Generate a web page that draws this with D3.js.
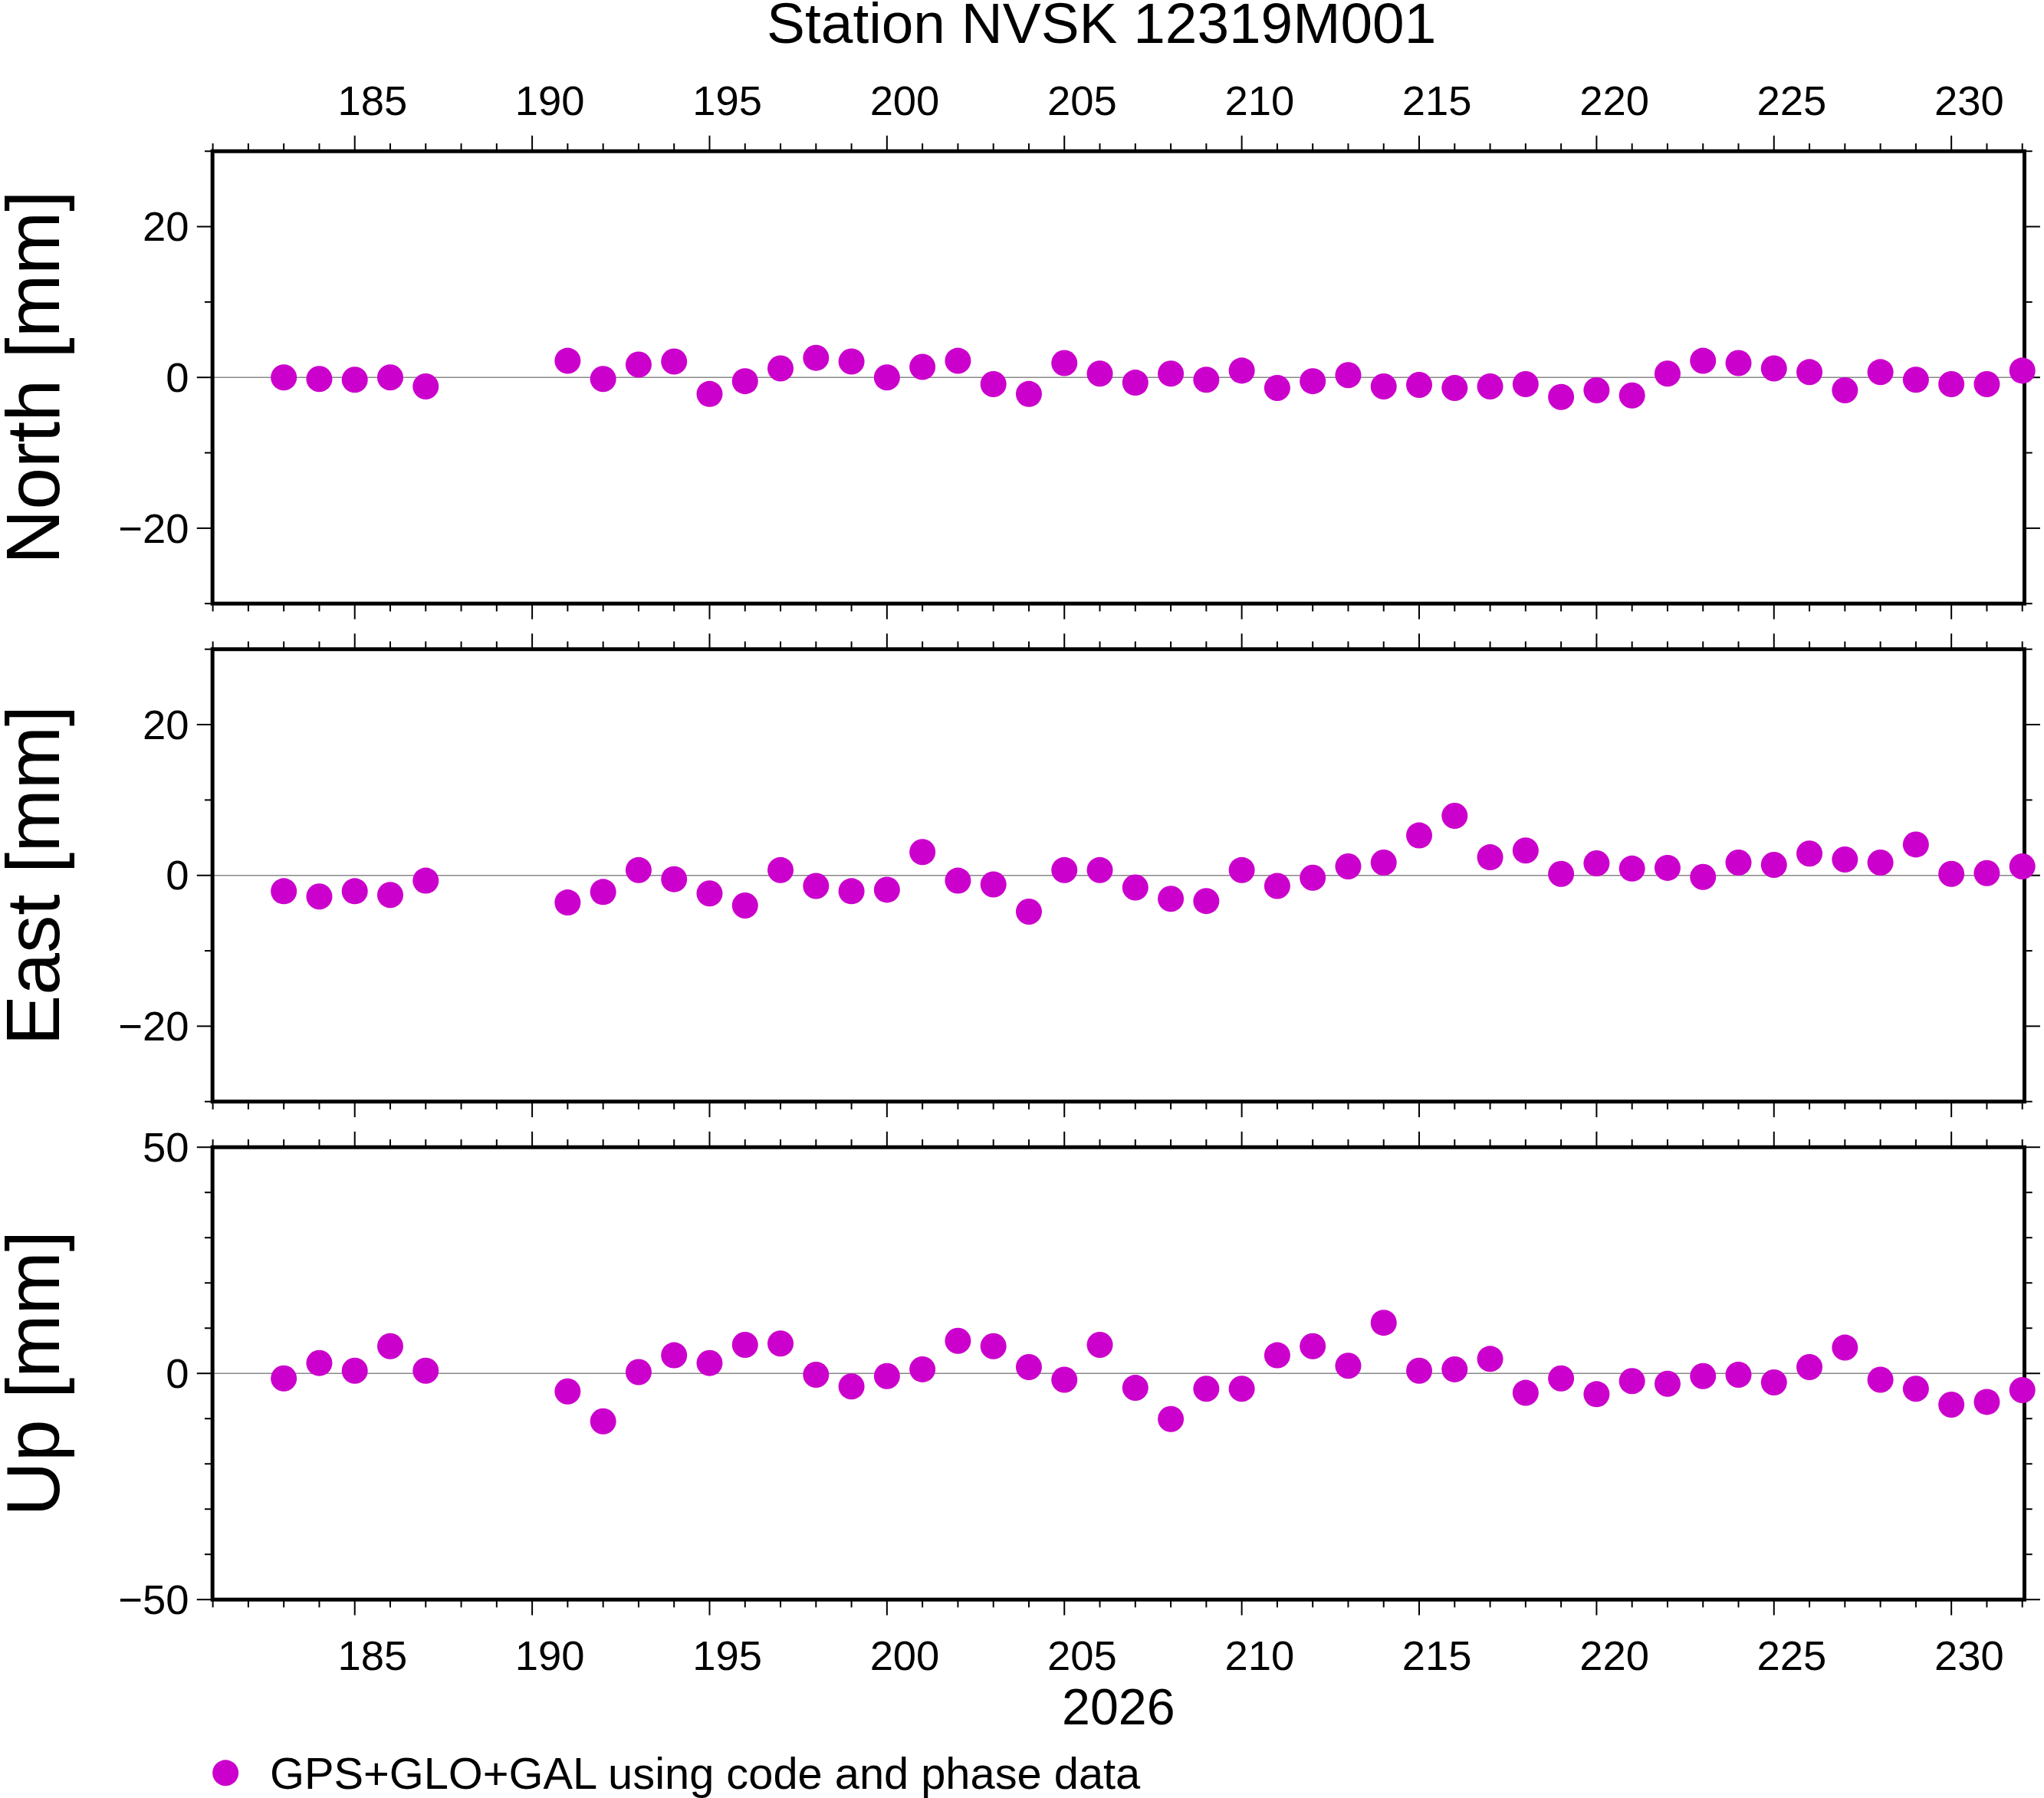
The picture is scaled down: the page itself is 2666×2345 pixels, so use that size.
<!DOCTYPE html><html><head><meta charset="utf-8">
<script src="https://cdn.jsdelivr.net/npm/d3@7"></script>
<style>body{margin:0;background:#fff}</style></head><body><svg id="c"></svg><script>
const days=[183,184,185,186,187,191,192,193,194,195,196,197,198,199,200,201,202,203,204,205,206,207,208,209,210,211,212,213,214,215,216,217,218,219,220,221,222,223,224,225,226,227,228,229,230,231,232];
const north=[0,-0.2,-0.3,0,-1.2,2.2,-0.2,1.7,2.1,-2.2,-0.5,1.2,2.6,2.1,0,1.4,2.2,-0.9,-2.2,1.9,0.5,-0.7,0.5,-0.3,0.9,-1.4,-0.5,0.3,-1.2,-1.0,-1.4,-1.2,-0.9,-2.6,-1.7,-2.4,0.5,2.2,1.9,1.2,0.7,-1.7,0.7,-0.3,-0.9,-0.9,0.9];
const east=[-2.1,-2.8,-2.1,-2.6,-0.7,-3.6,-2.2,0.7,-0.5,-2.4,-4.0,0.7,-1.4,-2.1,-1.9,3.1,-0.7,-1.2,-4.8,0.7,0.7,-1.6,-3.1,-3.4,0.7,-1.4,-0.3,1.2,1.7,5.3,7.9,2.4,3.3,0.2,1.6,0.9,1.0,-0.2,1.7,1.4,2.9,2.1,1.7,4.1,0.2,0.3,1.2];
const up=[-1.1,2.3,0.6,6.0,0.6,-4.0,-10.6,0.3,4.0,2.3,6.3,6.6,-0.3,-2.9,-0.6,0.9,7.2,6.0,1.4,-1.4,6.3,-3.2,-10.1,-3.4,-3.4,4.0,6.0,1.7,11.2,0.6,0.9,3.2,-4.3,-1.1,-4.6,-1.7,-2.3,-0.6,-0.3,-2.0,1.4,5.7,-1.4,-3.4,-6.9,-6.3,-3.7];
const xTickLabels=[185,190,195,200,205,210,215,220,225,230];
const panels=[{name:"North [mm]",vals:north,dom:[-30,30],lab:[-20,0,20],minor:10},
{name:"East [mm]",vals:east,dom:[-30,30],lab:[-20,0,20],minor:10},
{name:"Up [mm]",vals:up,dom:[-50,50],lab:[-50,0,50],minor:10}];
const s=2666/1568, W=2666,H=2345;
const svg=d3.select("#c").attr("width",W).attr("height",H).style("font-family","'Liberation Sans',Arial,sans-serif");
const L=163*s,R=1553*s;
const x=d3.scaleLinear().domain([180.99,232.06]).range([L,R]);
const tops=[116,498,880].map(v=>v*s), ph=347*s;
const col="#cc00cc";
const fmt=v=>v<0?"\u2212"+(-v):""+v;
svg.append("text").attr("x",845*s).attr("y",33*s).attr("text-anchor","middle").attr("font-size",44*s).text("Station NVSK 12319M001");
const allDays=d3.range(181,233);
panels.forEach((p,i)=>{
  const t=tops[i], b=t+ph;
  const y=d3.scaleLinear().domain(p.dom).range([b,t]);
  const g=svg.append("g");
  g.append("line").attr("x1",L).attr("x2",R).attr("y1",y(0)).attr("y2",y(0)).attr("stroke","#888").attr("stroke-width",1.5);
  allDays.forEach(d=>{
    const len=(d%5===0?12:6)*s;
    g.append("line").attr("x1",x(d)).attr("x2",x(d)).attr("y1",t).attr("y2",t-len).attr("stroke","#000").attr("stroke-width",2);
    g.append("line").attr("x1",x(d)).attr("x2",x(d)).attr("y1",b).attr("y2",b+len).attr("stroke","#000").attr("stroke-width",2);
  });
  d3.range(p.dom[0],p.dom[1]+0.01,p.minor).forEach(v=>{
    const major=p.lab.includes(v);const len=(major?12:6)*s;
    g.append("line").attr("x1",L).attr("x2",L-len).attr("y1",y(v)).attr("y2",y(v)).attr("stroke","#000").attr("stroke-width",2);
    g.append("line").attr("x1",R).attr("x2",R+len).attr("y1",y(v)).attr("y2",y(v)).attr("stroke","#000").attr("stroke-width",2);
  });
  p.lab.forEach(v=>g.append("text").attr("x",L-18*s).attr("y",y(v)+11*s).attr("text-anchor","end").attr("font-size",32*s).text(fmt(v)));
  g.append("text").attr("transform",`translate(${45*s},${(t+b)/2}) rotate(-90)`).attr("text-anchor","middle").attr("font-size",58*s).text(p.name);
  g.append("rect").attr("x",L).attr("y",t).attr("width",R-L).attr("height",ph).attr("fill","none").attr("stroke","#000").attr("stroke-width",5);
  g.selectAll("circle").data(days).join("circle").attr("cx",d=>x(d)).attr("cy",(d,j)=>y(p.vals[j])).attr("r",10*s).attr("fill",col);
  if(i===0) xTickLabels.forEach(d=>g.append("text").attr("x",x(d+0.5)).attr("y",88*s).attr("text-anchor","middle").attr("font-size",32*s).text(d));
  if(i===2) xTickLabels.forEach(d=>g.append("text").attr("x",x(d+0.5)).attr("y",1281*s).attr("text-anchor","middle").attr("font-size",32*s).text(d));
});
svg.append("text").attr("x",858*s).attr("y",1323*s).attr("text-anchor","middle").attr("font-size",39*s).text("2026");
svg.append("circle").attr("cx",173*s).attr("cy",1360*s).attr("r",10*s).attr("fill",col);
svg.append("text").attr("x",207*s).attr("y",1372*s).attr("font-size",34*s).text("GPS+GLO+GAL using code and phase data");
</script></body></html>
